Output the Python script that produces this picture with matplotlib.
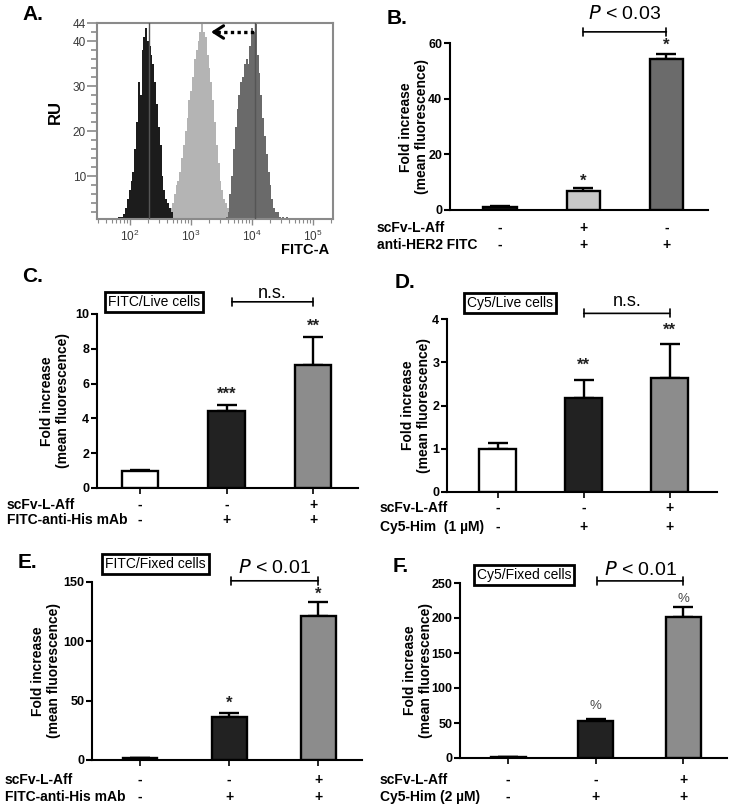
import numpy as np
import matplotlib
matplotlib.use('Agg')
import matplotlib.pyplot as plt
from matplotlib import transforms as mtransforms
from matplotlib.ticker import FixedLocator, MultipleLocator, NullFormatter

plt.rcParams['font.family'] = ['Liberation Sans', 'DejaVu Sans']
plt.rcParams['mathtext.default'] = 'regular'

# ---------------- data ----------------
# A: flow cytometry histograms, log10(FITC-A) bins of 0.03 decade, counts (RU)
hist_step = 0.03
black_start = 1.80
black_counts = [1, 1, 1, 1.5, 3, 5, 7, 9, 11, 16, 22, 31, 28, 38, 41, 43, 40, 39,
                37, 35, 31, 26, 21, 17, 10, 7, 5, 4, 3, 2]
light_start = 2.57
light_counts = [1, 2, 3, 3, 4, 6, 8, 9, 11, 14, 17, 20, 23, 27, 29, 32, 36, 38, 40,
                42, 44, 42, 41, 37, 34, 31, 27, 22, 17, 13, 9, 7, 5, 4, 3, 2, 1, 2, 1]
dark_start = 3.57
dark_counts = [1, 2, 6, 10, 16, 21, 25, 28, 31, 32, 35, 36, 35, 39, 43, 42, 44, 37,
               33, 28, 23, 19, 15, 11, 8, 5, 3, 2, 2, 1, 0, 1, 0, 1]
gate_lines = [2.31, 4.05]
hist_xticks = [2, 3, 4, 5]
hist_yticks = [10, 20, 30, 40, 44]

# B
b_values = [1.0, 6.8, 54.3]
b_errors = [0.3, 1.0, 1.8]
b_stars = ['', '*', '*']
b_rows = ['scFv-L-Aff', 'anti-HER2 FITC']
b_signs = [['-', '+', '-'], ['-', '+', '+']]

# C
c_values = [1.0, 4.45, 7.05]
c_errors = [0.05, 0.33, 1.65]
c_stars = ['', '***', '**']
c_rows = ['scFv-L-Aff', 'FITC-anti-His mAb']
c_signs = [['-', '-', '+'], ['-', '+', '+']]

# D
d_values = [1.0, 2.18, 2.64]
d_errors = [0.14, 0.42, 0.78]
d_stars = ['', '**', '**']
d_rows = ['scFv-L-Aff', 'Cy5-Him  (1 µM)']
d_signs = [['-', '-', '+'], ['-', '+', '+']]

# E
e_values = [1.5, 35.9, 121.7]
e_errors = [0.3, 3.3, 11.8]
e_stars = ['', '*', '*']
e_rows = ['scFv-L-Aff', 'FITC-anti-His mAb']
e_signs = [['-', '-', '+'], ['-', '+', '+']]

# F
f_values = [1.0, 53.0, 201.5]
f_errors = [0.3, 3.0, 14.5]
f_stars = ['', '%', '%']
f_rows = ['scFv-L-Aff', 'Cy5-Him (2 µM)']
f_signs = [['-', '-', '+'], ['-', '+', '+']]

# ---------------- figure ----------------
W, H = 731, 811
fig = plt.figure(figsize=(W / 100, H / 100), dpi=100)


def px_axes(x0, y0, x1, y1):
    return fig.add_axes([x0 / W, 1 - y1 / H, (x1 - x0) / W, (y1 - y0) / H])


def fx(px):
    return px / W


def fy(py):
    return 1 - py / H


def panel_label(x, y, s):
    fig.text(fx(x), fy(y), s, ha='left', va='center', fontsize=15, fontweight='bold')


def ylab(x, y, fs=10):
    fig.text(fx(x), fy(y), 'Fold increase\n(mean fluorescence)', rotation=90,
             ha='center', va='center', ma='center', fontsize=fs, fontweight='bold',
             linespacing=1.15)


def bar_panel(ax, values, errors, colors, xlim, ylim, yticks, width, ticks_x=True):
    x = np.arange(len(values))
    ax.bar(x, values, width=width, color=colors, edgecolor='black', linewidth=1.7, zorder=3)
    ax.errorbar(x, values, yerr=[np.zeros(len(values)), errors], fmt='none',
                ecolor='black', elinewidth=1.7, capsize=7.5, capthick=1.7, zorder=2)
    ax.set_xlim(*xlim)
    ax.set_ylim(*ylim)
    ax.set_yticks(yticks)
    for s in ['top', 'right']:
        ax.spines[s].set_visible(False)
    for s in ['left', 'bottom']:
        ax.spines[s].set_linewidth(1.5)
    ax.tick_params(axis='y', length=4, width=1.5, labelsize=9, pad=1.5)
    ax.set_xticks(x)
    ax.set_xticklabels([])
    ax.tick_params(axis='x', length=4 if ticks_x else 0, width=1.2)
    for lab in ax.get_yticklabels():
        lab.set_fontweight('bold')
    ax.patch.set_alpha(0)


def stars(ax, ys, labels):
    for i, (y, s) in enumerate(zip(ys, labels)):
        if s == '%':
            ax.text(i, y, s, ha='center', va='center', fontsize=9.5, color='#4a4a4a')
        elif s:
            ax.text(i, y, s, ha='center', va='center', fontsize=12, fontweight='bold',
                    color='#222222')


def bracket(ax, x1, x2, y, text, ty, fs=13, italic_p=False):
    ax.annotate('', xy=(x1, y), xytext=(x2, y), annotation_clip=False,
                arrowprops=dict(arrowstyle='|-|,widthA=0.28,widthB=0.28', lw=1.2, color='black',
                                shrinkA=0, shrinkB=0))
    s = (r'$\it{P}$ < ' + text) if italic_p else text
    ax.text((x1 + x2) / 2, ty, s, ha='center', va='center', fontsize=fs, clip_on=False)


def boxed(ax, x, y, s):
    ax.text(x, y, s, ha='center', va='center', fontsize=10, clip_on=False,
            bbox=dict(boxstyle='square,pad=0.22', fc='white', ec='black', lw=2.0))


def rows(ax, names, signs, left_px, ys_px, fs=10):
    tr = mtransforms.blended_transform_factory(ax.transData, fig.transFigure)
    for name, sg, ypx in zip(names, signs, ys_px):
        fig.text(fx(left_px), fy(ypx), name, ha='left', va='center', fontsize=fs,
                 fontweight='bold')
        for i, s in enumerate(sg):
            ax.text(i, fy(ypx), s, transform=tr, ha='center', va='center', fontsize=fs,
                    fontweight='bold')


# ---------- Panel A ----------
axA = px_axes(97, 23, 333, 219)
axA.set_xscale('log')
for start, counts, col in [(light_start, light_counts, '#b4b4b4'),
                           (black_start, black_counts, '#1c1c1c'),
                           (dark_start, dark_counts, '#6a6a6a')]:
    edges = 10 ** (start + hist_step * np.arange(len(counts) + 1))
    axA.stairs(counts, edges, fill=True, color=col, baseline=0, zorder=2)
for g in gate_lines:
    axA.axvline(10 ** g, color='#555555', lw=1.0, zorder=3)
axA.set_xlim(10 ** 1.46, 10 ** 5.33)
axA.set_ylim(0.5, 44)
axA.xaxis.set_major_locator(FixedLocator([10 ** v for v in hist_xticks]))
axA.set_xticklabels([r'$10^{%d}$' % v for v in hist_xticks])
axA.xaxis.set_minor_formatter(NullFormatter())
axA.set_yticks(hist_yticks)
axA.yaxis.set_minor_locator(MultipleLocator(2))
for s in axA.spines.values():
    s.set_color('#8a8a8a')
    s.set_linewidth(1.5)
axA.tick_params(which='both', color='#8a8a8a', labelsize=8.5, labelcolor='#3a3a3a')
axA.tick_params(axis='y', which='major', length=7, width=1.2, pad=1)
axA.tick_params(axis='y', which='minor', length=4, width=1.2)
axA.tick_params(axis='x', which='major', length=4, width=1.0, pad=3)
axA.tick_params(axis='x', which='minor', length=3, width=0.8)
# dotted shift arrow
axA.plot([10 ** 3.43, 10 ** 4.05], [42, 42], color='black', lw=2.4, ls=(0, (1, 1)), zorder=4)
axA.annotate('', xy=(10 ** 3.33, 42), xytext=(10 ** 3.46, 42),
             arrowprops=dict(arrowstyle='->,head_length=0.7,head_width=0.45', lw=2.2,
                             color='black', shrinkA=0, shrinkB=0), zorder=4)
fig.text(fx(55), fy(112), 'RU', rotation=90, ha='center', va='center', fontsize=12,
         fontweight='bold')
fig.text(fx(305), fy(250), 'FITC-A', ha='center', va='center', fontsize=10.5,
         fontweight='bold')
panel_label(22, 15, 'A.')

# ---------- Panel B ----------
axB = px_axes(450, 43, 708, 210)
bar_panel(axB, b_values, b_errors, ['#151515', '#c8c8c8', '#6b6b6b'],
          (-0.6, 2.5), (0, 60), [0, 20, 40, 60], 0.4, ticks_x=False)
stars(axB, [0, 10.3, 59.2], b_stars)
bracket(axB, 1, 2, 64, '0.03', 70.5, fs=14, italic_p=True)
rows(axB, b_rows, b_signs, 377, [228, 245])
ylab(414, 127)
panel_label(387, 18, 'B.')

# ---------- Panel C ----------
axC = px_axes(97, 314, 358, 488)
bar_panel(axC, c_values, c_errors, ['white', '#222222', '#8c8c8c'],
          (-0.5, 2.52), (0, 10), [0, 2, 4, 6, 8, 10], 0.42)
stars(axC, [0, 5.4, 9.3], c_stars)
bracket(axC, 1.06, 2.0, 10.7, 'n.s.', 11.15, fs=13)
boxed(axC, 0.16, 10.7, 'FITC/Live cells')
rows(axC, c_rows, c_signs, 7, [505, 520])
ylab(55, 401)
panel_label(22, 276, 'C.')

# ---------- Panel D ----------
axD = px_axes(447, 319, 717, 492)
bar_panel(axD, d_values, d_errors, ['white', '#222222', '#8c8c8c'],
          (-0.59, 2.55), (0, 4), [0, 1, 2, 3, 4], 0.43)
stars(axD, [0, 2.92, 3.75], d_stars)
bracket(axD, 1.0, 2.0, 4.13, 'n.s.', 4.4, fs=13)
boxed(axD, 0.14, 4.36, 'Cy5/Live cells')
rows(axD, d_rows, d_signs, 380, [508, 527])
ylab(416, 405)
panel_label(395, 283, 'D.')

# ---------- Panel E ----------
axE = px_axes(92, 582, 362, 760)
bar_panel(axE, e_values, e_errors, ['white', '#222222', '#8c8c8c'],
          (-0.54, 2.49), (0, 150), [0, 50, 100, 150], 0.39)
stars(axE, [0, 47.5, 139.5], e_stars)
bracket(axE, 1.02, 2.0, 151, '0.01', 162, fs=14, italic_p=True)
boxed(axE, 0.17, 165, 'FITC/Fixed cells')
rows(axE, e_rows, e_signs, 5, [780, 797])
ylab(46, 671)
panel_label(18, 562, 'E.')

# ---------- Panel F ----------
axF = px_axes(460, 583, 727, 758)
bar_panel(axF, f_values, f_errors, ['white', '#222222', '#8c8c8c'],
          (-0.55, 2.5), (0, 250), [0, 50, 100, 150, 200, 250], 0.4)
stars(axF, [0, 74, 227], f_stars)
bracket(axF, 1.02, 2.0, 253, '0.01', 268.5, fs=14, italic_p=True)
boxed(axF, 0.18, 261, 'Cy5/Fixed cells')
rows(axF, f_rows, f_signs, 380, [780, 797])
ylab(418, 670)
panel_label(393, 567, 'F.')

fig.savefig('out.png', dpi=100)
